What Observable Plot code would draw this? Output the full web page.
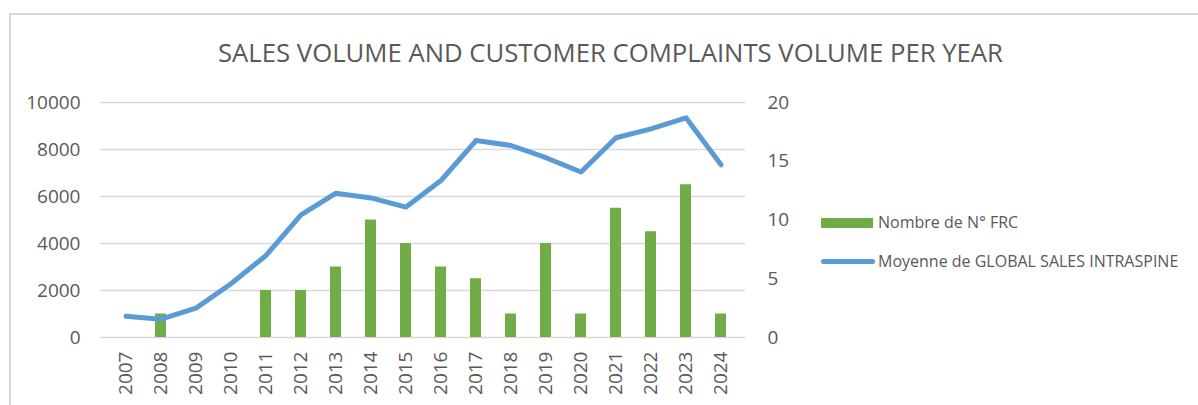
<!DOCTYPE html>
<html>
<head>
<meta charset="utf-8">
<script src="https://cdn.jsdelivr.net/npm/d3@7"></script>
<script src="https://cdn.jsdelivr.net/npm/@observablehq/plot@0.6"></script>
<style>
  html, body { margin: 0; padding: 0; background: #fff; }
  #wrap { position: relative; width: 1198px; height: 405px; overflow: hidden; background: #fff; font-family: "Open Sans", sans-serif; }
  #bl { position: absolute; left: 9px; top: 13px; width: 2px; height: 392px; background: #d9d9d9; }
  #bt { position: absolute; left: 9px; top: 13px; width: 1189px; height: 2px; background: #d9d9d9; }
  #title { position: absolute; left: 218px; top: 35px; white-space: nowrap; font-family: "Open Sans", sans-serif; font-weight: 400; font-size: 25px; color: #595959; transform-origin: 0 0; }
  #chart { position: absolute; left: 0; top: 0; }
  .leg { position: absolute; font-family: "Open Sans", sans-serif; font-size: 16px; color: #595959; white-space: nowrap; }
</style>
</head>
<body>
<div id="wrap">
  <div id="bl"></div><div id="bt"></div>
  <div id="title">SALES VOLUME AND CUSTOMER COMPLAINTS VOLUME PER YEAR</div>
  <div id="chart"></div>
  <div id="legend"></div>
</div>
<script>
const years = ["2007","2008","2009","2010","2011","2012","2013","2014","2015","2016","2017","2018","2019","2020","2021","2022","2023","2024"];
const sales = [900, 780, 1250, 2290, 3490, 5220, 6140, 5940, 5550, 6680, 8380, 8170, 7650, 7040, 8500, 8880, 9350, 7350];
const frc = [null, 2, null, null, 4, 4, 6, 10, 8, 6, 5, 2, 8, 2, 11, 9, 13, 2];
const salesTicks = [0, 2000, 4000, 6000, 8000, 10000];
const frcTicks = [0, 5, 10, 15, 20];
const seriesNames = ["Nombre de N° FRC", "Moyenne de GLOBAL SALES INTRASPINE"];
const colors = ["#70AD47", "#5B9BD5"];

const SALES_MAX = 10000, FRC_MAX = 20;
const ratio = SALES_MAX / FRC_MAX;

const data = years.map((y, i) => ({year: y, sales: sales[i], frc: frc[i]}));

const chart = Plot.plot({
  width: 800,
  height: 405,
  marginTop: 102,
  marginBottom: 68,
  marginLeft: 100,
  marginRight: 55,
  style: {fontFamily: "Open Sans, sans-serif", fontSize: "19px", color: "#595959", background: "transparent"},
  x: {type: "band", domain: years, paddingInner: 0.69, paddingOuter: 0.345, axis: null},
  y: {domain: [0, SALES_MAX], axis: null},
  marks: [
    Plot.gridY(salesTicks, {stroke: "#d9d9d9", strokeOpacity: 1, strokeWidth: 1.5}),
    Plot.axisY(salesTicks, {anchor: "left", tickSize: 0, tickPadding: 20, label: null, tickFormat: d => String(d)}),
    Plot.axisY(frcTicks.map(t => t * ratio), {anchor: "right", tickSize: 0, tickPadding: 22, label: null, tickFormat: d => String(d / ratio), textAnchor: "start"}),
    Plot.axisX(years, {anchor: "bottom", tickSize: 0, tickPadding: 14, tickRotate: -90, label: null}),
    Plot.barY(data.filter(d => d.frc != null), {x: "year", y: d => d.frc * ratio, fill: colors[0]}),
    Plot.line(data, {x: "year", y: "sales", stroke: colors[1], strokeWidth: 5, strokeLinejoin: "round", strokeLinecap: "round"})
  ]
});
document.getElementById("chart").appendChild(chart);

// title width fit
const t = document.getElementById("title");
const w = t.getBoundingClientRect().width;
t.style.transform = `scaleX(${785 / w})`;

// legend
const leg = document.getElementById("legend");
leg.innerHTML = `
  <div style="position:absolute;left:821px;top:218px;width:52px;height:10px;background:${colors[0]}"></div>
  <div class="leg" style="left:878px;top:211px;">${seriesNames[0]}</div>
  <div style="position:absolute;left:821px;top:259px;width:54px;height:5px;border-radius:3px;background:${colors[1]}"></div>
  <div class="leg" style="left:878px;top:250px;">${seriesNames[1]}</div>
`;
</script>
</body>
</html>
